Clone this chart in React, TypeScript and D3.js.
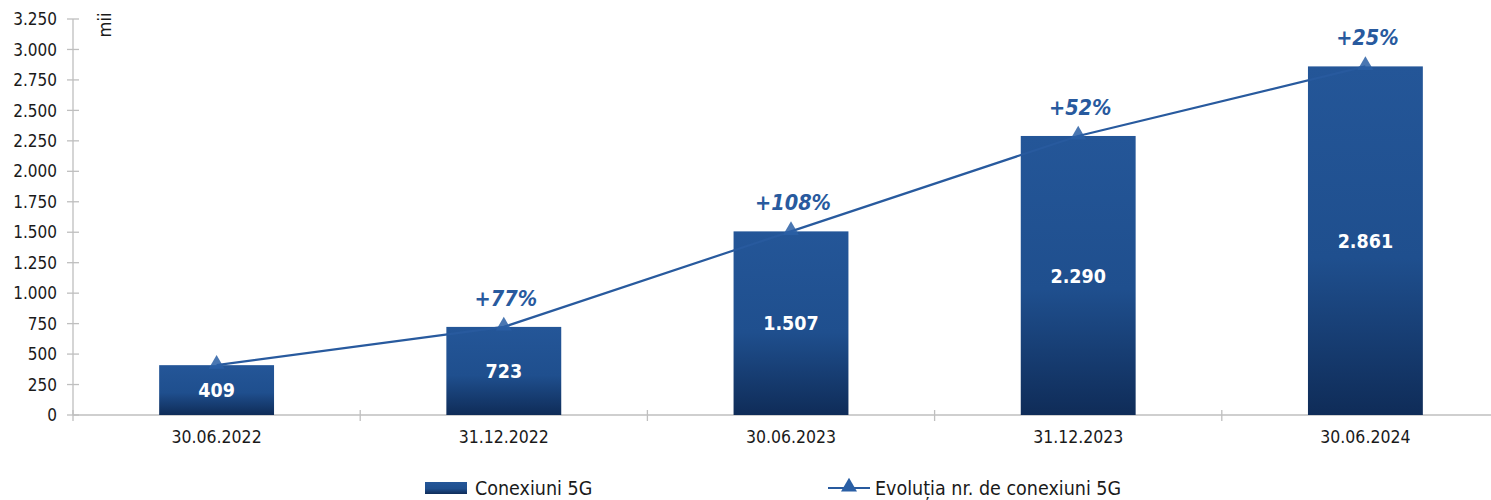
import { useMemo } from 'react'
import { scaleBand, scaleLinear, range, line, symbol, symbolTriangle, formatLocale } from 'd3'

// chart data
const categories = ['30.06.2022', '31.12.2022', '30.06.2023', '31.12.2023', '30.06.2024']
const connections = [409, 723, 1507, 2290, 2861]
const growthLabels = ['', '+77%', '+108%', '+52%', '+25%']
const yTickValues = range(0, 3251, 250)
const unitLabel = 'mii'
const barLegend = 'Conexiuni 5G'
const lineLegend = 'Evoluția nr. de conexiuni 5G'

const width = 1491
const height = 500
const font = "'DejaVu Sans Condensed', 'DejaVu Sans', sans-serif"
const blue = '#285a9e'
const axisGray = '#bfbfbf'

const roFormat = formatLocale({ decimal: ',', thousands: '.', grouping: [3], currency: ['', ' lei'] }).format(',d')

const App = () => {
  const x = useMemo(
    () => scaleBand<string>().domain(categories).range([73, 1509]).paddingInner(0.6).paddingOuter(0.3),
    []
  )
  const y = useMemo(() => scaleLinear().domain([0, 3250]).range([415, 19]), [])
  const step = x.step()
  const cx = (c: string) => x(c)! + x.bandwidth() / 2

  const linePath = line<number>()
    .x((_, i) => cx(categories[i]))
    .y((d) => y(d))(connections)
  const tri = symbol().type(symbolTriangle).size(110)()

  return (
    <svg
      width={width}
      height={height}
      style={{ position: 'absolute', left: 0, top: 0, fontFamily: font }}
    >
      <defs>
        <linearGradient id="barGrad" x1="0" y1="0" x2="0" y2="1">
          <stop offset="0" stopColor="#245698" />
          <stop offset="0.55" stopColor="#1f4f8e" />
          <stop offset="1" stopColor="#0f2c58" />
        </linearGradient>
      </defs>

      {/* y axis */}
      <line x1={73} x2={73} y1={y(3250)} y2={y(0)} stroke={axisGray} strokeWidth={1.3} />
      {yTickValues.map((t) => (
        <g key={t} transform={`translate(0,${y(t)})`}>
          <line x1={67} x2={79} stroke={axisGray} strokeWidth={1.3} />
          <text x={57} dy="0.36em" textAnchor="end" fontSize={17} fill="#1a1a1a">
            {roFormat(t)}
          </text>
        </g>
      ))}
      <text
        transform="translate(111,25) rotate(-90)"
        textAnchor="middle"
        fontSize={18}
        fill="#1a1a1a"
      >
        {unitLabel}
      </text>

      {/* x axis */}
      <line x1={73} x2={1509} y1={y(0)} y2={y(0)} stroke={axisGray} strokeWidth={1.3} />
      {range(categories.length + 1).map((i) => (
        <line
          key={i}
          x1={73 + i * step}
          x2={73 + i * step}
          y1={y(0) - 5}
          y2={y(0) + 6}
          stroke={axisGray}
          strokeWidth={1.3}
        />
      ))}
      {categories.map((c) => (
        <text key={c} x={cx(c)} y={443} textAnchor="middle" fontSize={17.5} fill="#1a1a1a">
          {c}
        </text>
      ))}

      {/* bars */}
      {categories.map((c, i) => (
        <g key={c}>
          <rect
            x={x(c)}
            y={y(connections[i])}
            width={x.bandwidth()}
            height={y(0) - y(connections[i])}
            fill="url(#barGrad)"
          />
          <text
            x={cx(c)}
            y={(y(connections[i]) + y(0)) / 2}
            dy="0.36em"
            textAnchor="middle"
            fontSize={19.5}
            fontWeight="bold"
            fill="#ffffff"
          >
            {roFormat(connections[i])}
          </text>
        </g>
      ))}

      {/* growth line */}
      <path d={linePath ?? ''} fill="none" stroke={blue} strokeWidth={2.2} />
      {categories.map((c, i) => (
        <g key={c}>
          <path d={tri} transform={`translate(${cx(c)},${y(connections[i]) - 1})`} fill="#2a5fa5" fillOpacity={0.85} />
          {growthLabels[i] && (
            <text
              x={cx(c) + 2}
              y={y(connections[i]) - 29}
              dy="0.36em"
              textAnchor="middle"
              fontSize={21.5}
              fontWeight="bold"
              fontStyle="italic"
              fill={blue}
            >
              {growthLabels[i]}
            </text>
          )}
        </g>
      ))}

      {/* legend */}
      <rect x={425} y={482} width={42} height={12} fill="url(#barGrad)" />
      <text x={475} y={488} dy="0.36em" fontSize={19.5} fill="#1a1a1a">
        {barLegend}
      </text>
      <line x1={828} x2={870} y1={488} y2={488} stroke={blue} strokeWidth={2.2} />
      <path d={tri} transform="translate(849,487)" fill="#2a5fa5" />
      <text x={875} y={488} dy="0.36em" fontSize={19.5} fill="#1a1a1a">
        {lineLegend}
      </text>
    </svg>
  )
}

export default App
